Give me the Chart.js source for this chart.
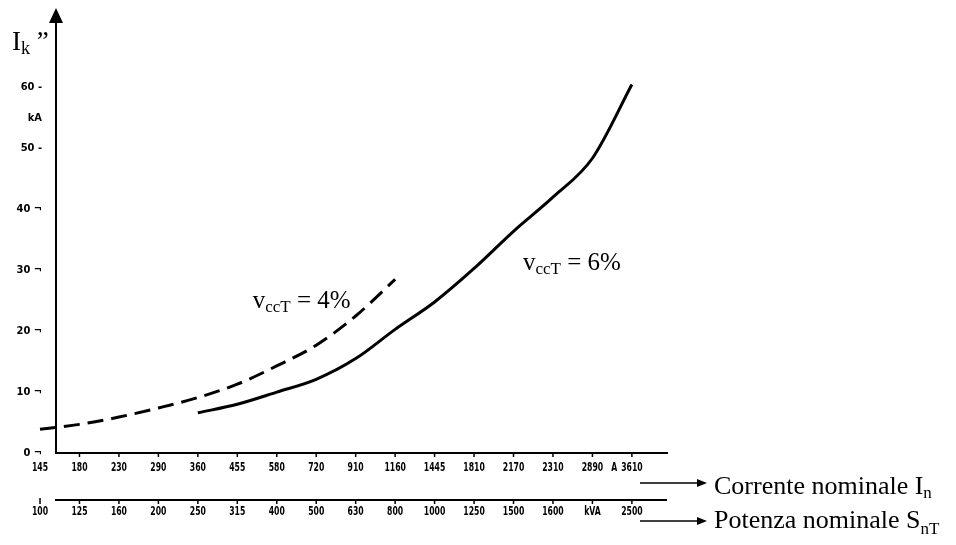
<!DOCTYPE html>
<html lang="it">
<head>
<meta charset="UTF-8">
<title>Ik'' in funzione della corrente nominale</title>
<script src="https://cdn.jsdelivr.net/npm/chart.js"></script>
<style>
  html, body { margin: 0; padding: 0; background: #fff; }
  .chart-container { position: relative; width: 956px; height: 545px; }
</style>
</head>
<body>
<div class="chart-container"><canvas id="ikChart" width="956" height="545"></canvas></div>
<script>
// Corrente nominale In [A] (riga superiore) e potenza nominale SnT [kVA] (riga inferiore)
const currentLabels = ['145', '180', '230', '290', '360', '455', '580', '720', '910', '1160', '1445', '1810', '2170', '2310', '2890', '3610'];
const powerLabels = ['100', '125', '160', '200', '250', '315', '400', '500', '630', '800', '1000', '1250', '1500', '1600', 'kVA', '2500'];
// Ik'' in kA (null = curva non presente)
const vcc4Values = [3.9, 4.7, 5.9, 7.4, 9.1, 11.3, 14.3, 17.7, 22.5, 28.5, null, null, null, null, null, null];
const vcc6Values = [null, null, null, null, 6.6, 8.0, 10.0, 12.1, 15.5, 20.3, 24.8, 30.3, 36.4, 42.0, 48.4, 60.5];

const tickFamily = "'DejaVu Sans Condensed', Arial, sans-serif";
const serif = "'Liberation Serif', 'Times New Roman', serif";

function toPoints(values) {
    return values.map((v, i) => ({ x: i, y: v })).filter(p => p.y !== null);
}

// testo con pedice: main + sub (abbassato) + rest
function drawSub(ctx, x, y, main, sub, rest, size, drop) {
    ctx.font = size + 'px ' + serif;
    ctx.fillText(main, x, y);
    x += ctx.measureText(main).width;
    ctx.font = Math.round(size * 0.66) + 'px ' + serif;
    ctx.fillText(sub, x, y + drop);
    x += ctx.measureText(sub).width;
    if (rest) {
        ctx.font = size + 'px ' + serif;
        ctx.fillText(rest, x, y);
    }
}

// etichetta stretta (font condensato schiacciato in orizzontale)
function narrowText(ctx, text, x, y) {
    ctx.save();
    ctx.translate(x, y);
    ctx.scale(0.66, 1);
    ctx.fillText(text, 0, 0);
    ctx.restore();
}

function arrowRight(ctx, x1, x2, y) {
    ctx.beginPath();
    ctx.moveTo(x1, y);
    ctx.lineTo(x2 - 8, y);
    ctx.stroke();
    ctx.beginPath();
    ctx.moveTo(x2, y);
    ctx.lineTo(x2 - 10, y - 4);
    ctx.lineTo(x2 - 10, y + 4);
    ctx.closePath();
    ctx.fill();
}

const axesPlugin = {
    id: 'doubleAxis',
    afterDraw(chart) {
        const ctx = chart.ctx;
        const xs = chart.scales.x;
        const ys = chart.scales.y;
        const area = chart.chartArea;
        ctx.save();
        ctx.fillStyle = '#000';
        ctx.strokeStyle = '#000';

        // freccia asse y
        ctx.beginPath();
        ctx.moveTo(area.left, 8);
        ctx.lineTo(area.left - 7, 23);
        ctx.lineTo(area.left + 7, 23);
        ctx.closePath();
        ctx.fill();

        // Ik''
        ctx.textAlign = 'left';
        ctx.textBaseline = 'alphabetic';
        drawSub(ctx, 12, 50, 'I', 'k', ' \u201D', 27, 4);

        // riga corrente
        const y1 = area.bottom;
        ctx.lineWidth = 1.5;
        ctx.font = 'bold 13px ' + tickFamily;
        ctx.textAlign = 'center';
        ctx.textBaseline = 'middle';
        currentLabels.forEach((lab, i) => {
            const px = xs.getPixelForValue(i);
            if (i > 0) {
                ctx.beginPath();
                ctx.moveTo(px, y1);
                ctx.lineTo(px, y1 + 4);
                ctx.stroke();
            }
            narrowText(ctx, lab, px, y1 + 15);
        });
        narrowText(ctx, 'A', xs.getPixelForValue(14.55), y1 + 15);

        // riga potenza
        const y2 = 500;
        ctx.lineWidth = 2;
        ctx.beginPath();
        ctx.moveTo(area.left - 1, y2);
        ctx.lineTo(area.right, y2);
        ctx.stroke();
        ctx.lineWidth = 1.5;
        powerLabels.forEach((lab, i) => {
            const px = xs.getPixelForValue(i);
            ctx.beginPath();
            ctx.moveTo(px, i === 0 ? y2 - 2 : y2);
            ctx.lineTo(px, y2 + 4);
            ctx.stroke();
            narrowText(ctx, lab, px, y2 + 12);
        });

        // frecce e titoli assi x
        ctx.lineWidth = 1.5;
        arrowRight(ctx, 640, 707, 483);
        arrowRight(ctx, 640, 707, 521);
        ctx.textAlign = 'left';
        ctx.textBaseline = 'alphabetic';
        drawSub(ctx, 714, 494, 'Corrente nominale I', 'n', '', 26, 4);
        drawSub(ctx, 714, 528, 'Potenza nominale S', 'nT', '', 26, 6);

        // etichette curve
        drawSub(ctx, xs.getPixelForValue(5.39), ys.getPixelForValue(23.8), 'v', 'ccT', ' = 4%', 25, 4);
        drawSub(ctx, xs.getPixelForValue(12.24), ys.getPixelForValue(30.0), 'v', 'ccT', ' = 6%', 25, 4);
        ctx.restore();
    }
};

new Chart(document.getElementById('ikChart'), {
    type: 'line',
    data: {
        datasets: [
            {
                label: 'vccT = 4%',
                data: toPoints(vcc4Values),
                borderColor: '#000',
                borderWidth: 3,
                borderDash: [16, 8],
                pointRadius: 0,
                cubicInterpolationMode: 'monotone',
                clip: false
            },
            {
                label: 'vccT = 6%',
                data: toPoints(vcc6Values),
                borderColor: '#000',
                borderWidth: 3,
                pointRadius: 0,
                cubicInterpolationMode: 'monotone',
                clip: false
            }
        ]
    },
    options: {
        responsive: false,
        animation: false,
        layout: { padding: { left: 0, top: 20, right: 289, bottom: 92 } },
        plugins: {
            legend: { display: false },
            tooltip: { enabled: false }
        },
        scales: {
            x: {
                type: 'linear',
                min: 0.405,
                max: 15.89,
                grid: { display: false },
                ticks: { display: false },
                border: { display: true, color: '#000', width: 2 },
                afterFit: s => { s.height = 0; }
            },
            y: {
                min: 0,
                max: 71,
                grid: { display: false, drawTicks: false },
                border: { display: true, color: '#000', width: 2 },
                afterFit: s => { s.width = 56; },
                ticks: {
                    stepSize: 5,
                    padding: 14,
                    color: '#000',
                    font: { family: tickFamily, size: 11, weight: 'bold' },
                    callback: v => {
                        if (v === 55) return 'kA';
                        if (v % 10 !== 0 || v > 60) return '';
                        return v + (v <= 40 ? ' \u00AC' : ' -');
                    }
                }
            }
        }
    },
    plugins: [axesPlugin]
});
</script>
</body>
</html>
